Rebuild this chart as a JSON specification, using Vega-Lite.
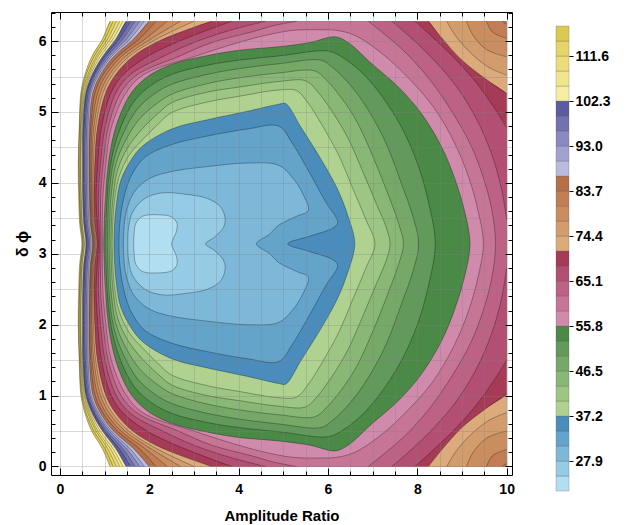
{
"$schema":"https://vega.github.io/schema/vega-lite/v6.json",
"background":"white",
"padding":{"left":14,"top":11,"right":2,"bottom":2},
"config":{"font":"Liberation Sans","view":{"stroke":null}},
"spacing":40,
"datasets":{
"lg":[{"k":1,"lo":21.7,"hi":24.8},{"k":2,"lo":24.8,"hi":27.9},{"k":3,"lo":27.9,"hi":31.0},{"k":4,"lo":31.0,"hi":34.1},{"k":5,"lo":34.1,"hi":37.2},{"k":6,"lo":37.2,"hi":40.3},{"k":7,"lo":40.3,"hi":43.4},{"k":8,"lo":43.4,"hi":46.5},{"k":9,"lo":46.5,"hi":49.6},{"k":10,"lo":49.6,"hi":52.7},{"k":11,"lo":52.7,"hi":55.8},{"k":12,"lo":55.8,"hi":58.9},{"k":13,"lo":58.9,"hi":62.0},{"k":14,"lo":62.0,"hi":65.1},{"k":15,"lo":65.1,"hi":68.2},{"k":16,"lo":68.2,"hi":71.3},{"k":17,"lo":71.3,"hi":74.4},{"k":18,"lo":74.4,"hi":77.5},{"k":19,"lo":77.5,"hi":80.6},{"k":20,"lo":80.6,"hi":83.7},{"k":21,"lo":83.7,"hi":86.8},{"k":22,"lo":86.8,"hi":89.9},{"k":23,"lo":89.9,"hi":93.0},{"k":24,"lo":93.0,"hi":96.1},{"k":25,"lo":96.1,"hi":99.2},{"k":26,"lo":99.2,"hi":102.3},{"k":27,"lo":102.3,"hi":105.4},{"k":28,"lo":105.4,"hi":108.5},{"k":29,"lo":108.5,"hi":111.6},{"k":30,"lo":111.6,"hi":114.7},{"k":31,"lo":114.7,"hi":117.8}],
"c":[
{"k":31,"s":311,"x":1.12,"y":0},{"k":31,"s":311,"x":0.95,"y":0.25},{"k":31,"s":311,"x":0.71,"y":0.5},{"k":31,"s":311,"x":0.56,"y":0.75},{"k":31,"s":311,"x":0.47,"y":1},{"k":31,"s":311,"x":0.43,"y":1.5},{"k":31,"s":311,"x":0.41,"y":2},{"k":31,"s":311,"x":0.42,"y":2.5},{"k":31,"s":311,"x":0.44,"y":2.85},{"k":31,"s":311,"x":0.49,"y":3.14},{"k":31,"s":311,"x":0.44,"y":3.43},{"k":31,"s":311,"x":0.42,"y":3.78},{"k":31,"s":311,"x":0.41,"y":4.28},{"k":31,"s":311,"x":0.43,"y":4.78},{"k":31,"s":311,"x":0.47,"y":5.28},{"k":31,"s":311,"x":0.56,"y":5.53},{"k":31,"s":311,"x":0.71,"y":5.78},{"k":31,"s":311,"x":0.95,"y":6.03},{"k":31,"s":311,"x":1.12,"y":6.28},{"k":31,"x":1.14,"y":6.28},{"k":31,"x":9.98,"y":6.28},{"k":31,"x":10,"y":6.28},{"k":31,"x":10,"y":6.26},{"k":31,"x":10,"y":0.02},{"k":31,"x":10,"y":0},
{"k":30,"s":301,"x":1.19,"y":0},{"k":30,"s":301,"x":1.01,"y":0.25},{"k":30,"s":301,"x":0.76,"y":0.5},{"k":30,"s":301,"x":0.59,"y":0.75},{"k":30,"s":301,"x":0.49,"y":1},{"k":30,"s":301,"x":0.44,"y":1.5},{"k":30,"s":301,"x":0.42,"y":2},{"k":30,"s":301,"x":0.44,"y":2.5},{"k":30,"s":301,"x":0.46,"y":2.85},{"k":30,"s":301,"x":0.51,"y":3.14},{"k":30,"s":301,"x":0.46,"y":3.43},{"k":30,"s":301,"x":0.44,"y":3.78},{"k":30,"s":301,"x":0.42,"y":4.28},{"k":30,"s":301,"x":0.44,"y":4.78},{"k":30,"s":301,"x":0.49,"y":5.28},{"k":30,"s":301,"x":0.59,"y":5.53},{"k":30,"s":301,"x":0.76,"y":5.78},{"k":30,"s":301,"x":1.01,"y":6.03},{"k":30,"s":301,"x":1.19,"y":6.28},{"k":30,"x":1.21,"y":6.28},{"k":30,"x":9.98,"y":6.28},{"k":30,"x":10,"y":6.28},{"k":30,"x":10,"y":6.26},{"k":30,"x":10,"y":0.02},{"k":30,"x":10,"y":0},
{"k":29,"s":291,"x":1.26,"y":0},{"k":29,"s":291,"x":1.07,"y":0.25},{"k":29,"s":291,"x":0.81,"y":0.5},{"k":29,"s":291,"x":0.63,"y":0.75},{"k":29,"s":291,"x":0.51,"y":1},{"k":29,"s":291,"x":0.46,"y":1.5},{"k":29,"s":291,"x":0.44,"y":2},{"k":29,"s":291,"x":0.45,"y":2.5},{"k":29,"s":291,"x":0.47,"y":2.85},{"k":29,"s":291,"x":0.52,"y":3.14},{"k":29,"s":291,"x":0.47,"y":3.43},{"k":29,"s":291,"x":0.45,"y":3.78},{"k":29,"s":291,"x":0.44,"y":4.28},{"k":29,"s":291,"x":0.46,"y":4.78},{"k":29,"s":291,"x":0.51,"y":5.28},{"k":29,"s":291,"x":0.63,"y":5.53},{"k":29,"s":291,"x":0.81,"y":5.78},{"k":29,"s":291,"x":1.07,"y":6.03},{"k":29,"s":291,"x":1.26,"y":6.28},{"k":29,"x":1.28,"y":6.28},{"k":29,"x":9.98,"y":6.28},{"k":29,"x":10,"y":6.28},{"k":29,"x":10,"y":6.26},{"k":29,"x":10,"y":0.02},{"k":29,"x":10,"y":0},
{"k":28,"s":281,"x":1.34,"y":0},{"k":28,"s":281,"x":1.13,"y":0.25},{"k":28,"s":281,"x":0.85,"y":0.5},{"k":28,"s":281,"x":0.66,"y":0.75},{"k":28,"s":281,"x":0.54,"y":1},{"k":28,"s":281,"x":0.47,"y":1.5},{"k":28,"s":281,"x":0.46,"y":2},{"k":28,"s":281,"x":0.47,"y":2.5},{"k":28,"s":281,"x":0.49,"y":2.85},{"k":28,"s":281,"x":0.54,"y":3.14},{"k":28,"s":281,"x":0.49,"y":3.43},{"k":28,"s":281,"x":0.47,"y":3.78},{"k":28,"s":281,"x":0.46,"y":4.28},{"k":28,"s":281,"x":0.47,"y":4.78},{"k":28,"s":281,"x":0.54,"y":5.28},{"k":28,"s":281,"x":0.66,"y":5.53},{"k":28,"s":281,"x":0.85,"y":5.78},{"k":28,"s":281,"x":1.13,"y":6.03},{"k":28,"s":281,"x":1.34,"y":6.28},{"k":28,"x":1.36,"y":6.28},{"k":28,"x":9.98,"y":6.28},{"k":28,"x":10,"y":6.28},{"k":28,"x":10,"y":6.26},{"k":28,"x":10,"y":0.02},{"k":28,"x":10,"y":0},
{"k":27,"s":271,"x":1.41,"y":0},{"k":27,"s":271,"x":1.19,"y":0.25},{"k":27,"s":271,"x":0.9,"y":0.5},{"k":27,"s":271,"x":0.69,"y":0.75},{"k":27,"s":271,"x":0.56,"y":1},{"k":27,"s":271,"x":0.49,"y":1.5},{"k":27,"s":271,"x":0.47,"y":2},{"k":27,"s":271,"x":0.48,"y":2.5},{"k":27,"s":271,"x":0.5,"y":2.85},{"k":27,"s":271,"x":0.55,"y":3.14},{"k":27,"s":271,"x":0.5,"y":3.43},{"k":27,"s":271,"x":0.48,"y":3.78},{"k":27,"s":271,"x":0.47,"y":4.28},{"k":27,"s":271,"x":0.49,"y":4.78},{"k":27,"s":271,"x":0.56,"y":5.28},{"k":27,"s":271,"x":0.69,"y":5.53},{"k":27,"s":271,"x":0.9,"y":5.78},{"k":27,"s":271,"x":1.19,"y":6.03},{"k":27,"s":271,"x":1.41,"y":6.28},{"k":27,"x":1.43,"y":6.28},{"k":27,"x":9.98,"y":6.28},{"k":27,"x":10,"y":6.28},{"k":27,"x":10,"y":6.26},{"k":27,"x":10,"y":0.02},{"k":27,"x":10,"y":0},
{"k":26,"s":261,"x":1.48,"y":0},{"k":26,"s":261,"x":1.25,"y":0.25},{"k":26,"s":261,"x":0.95,"y":0.5},{"k":26,"s":261,"x":0.72,"y":0.75},{"k":26,"s":261,"x":0.58,"y":1},{"k":26,"s":261,"x":0.51,"y":1.5},{"k":26,"s":261,"x":0.5,"y":2},{"k":26,"s":261,"x":0.51,"y":2.5},{"k":26,"s":261,"x":0.53,"y":2.85},{"k":26,"s":261,"x":0.58,"y":3.14},{"k":26,"s":261,"x":0.53,"y":3.43},{"k":26,"s":261,"x":0.51,"y":3.78},{"k":26,"s":261,"x":0.5,"y":4.28},{"k":26,"s":261,"x":0.51,"y":4.78},{"k":26,"s":261,"x":0.58,"y":5.28},{"k":26,"s":261,"x":0.72,"y":5.53},{"k":26,"s":261,"x":0.95,"y":5.78},{"k":26,"s":261,"x":1.25,"y":6.03},{"k":26,"s":261,"x":1.48,"y":6.28},{"k":26,"x":1.5,"y":6.28},{"k":26,"x":9.98,"y":6.28},{"k":26,"x":10,"y":6.28},{"k":26,"x":10,"y":6.26},{"k":26,"x":10,"y":0.02},{"k":26,"x":10,"y":0},
{"k":25,"s":251,"x":1.58,"y":0},{"k":25,"s":251,"x":1.33,"y":0.25},{"k":25,"s":251,"x":1,"y":0.5},{"k":25,"s":251,"x":0.76,"y":0.75},{"k":25,"s":251,"x":0.61,"y":1},{"k":25,"s":251,"x":0.54,"y":1.5},{"k":25,"s":251,"x":0.53,"y":2},{"k":25,"s":251,"x":0.54,"y":2.5},{"k":25,"s":251,"x":0.56,"y":2.85},{"k":25,"s":251,"x":0.61,"y":3.14},{"k":25,"s":251,"x":0.56,"y":3.43},{"k":25,"s":251,"x":0.54,"y":3.78},{"k":25,"s":251,"x":0.53,"y":4.28},{"k":25,"s":251,"x":0.54,"y":4.78},{"k":25,"s":251,"x":0.61,"y":5.28},{"k":25,"s":251,"x":0.76,"y":5.53},{"k":25,"s":251,"x":1,"y":5.78},{"k":25,"s":251,"x":1.33,"y":6.03},{"k":25,"s":251,"x":1.58,"y":6.28},{"k":25,"x":1.6,"y":6.28},{"k":25,"x":9.98,"y":6.28},{"k":25,"x":10,"y":6.28},{"k":25,"x":10,"y":6.26},{"k":25,"x":10,"y":0.02},{"k":25,"x":10,"y":0},
{"k":24,"s":241,"x":1.68,"y":0},{"k":24,"s":241,"x":1.41,"y":0.25},{"k":24,"s":241,"x":1.05,"y":0.5},{"k":24,"s":241,"x":0.79,"y":0.75},{"k":24,"s":241,"x":0.64,"y":1},{"k":24,"s":241,"x":0.57,"y":1.5},{"k":24,"s":241,"x":0.56,"y":2},{"k":24,"s":241,"x":0.57,"y":2.5},{"k":24,"s":241,"x":0.59,"y":2.85},{"k":24,"s":241,"x":0.64,"y":3.14},{"k":24,"s":241,"x":0.59,"y":3.43},{"k":24,"s":241,"x":0.57,"y":3.78},{"k":24,"s":241,"x":0.56,"y":4.28},{"k":24,"s":241,"x":0.57,"y":4.78},{"k":24,"s":241,"x":0.64,"y":5.28},{"k":24,"s":241,"x":0.79,"y":5.53},{"k":24,"s":241,"x":1.05,"y":5.78},{"k":24,"s":241,"x":1.41,"y":6.03},{"k":24,"s":241,"x":1.68,"y":6.28},{"k":24,"x":1.7,"y":6.28},{"k":24,"x":9.98,"y":6.28},{"k":24,"x":10,"y":6.28},{"k":24,"x":10,"y":6.26},{"k":24,"x":10,"y":0.02},{"k":24,"x":10,"y":0},
{"k":23,"s":231,"x":1.79,"y":0},{"k":23,"s":231,"x":1.49,"y":0.25},{"k":23,"s":231,"x":1.1,"y":0.5},{"k":23,"s":231,"x":0.83,"y":0.75},{"k":23,"s":231,"x":0.67,"y":1},{"k":23,"s":231,"x":0.6,"y":1.5},{"k":23,"s":231,"x":0.59,"y":2},{"k":23,"s":231,"x":0.6,"y":2.5},{"k":23,"s":231,"x":0.62,"y":2.85},{"k":23,"s":231,"x":0.67,"y":3.14},{"k":23,"s":231,"x":0.62,"y":3.43},{"k":23,"s":231,"x":0.6,"y":3.78},{"k":23,"s":231,"x":0.59,"y":4.28},{"k":23,"s":231,"x":0.6,"y":4.78},{"k":23,"s":231,"x":0.67,"y":5.28},{"k":23,"s":231,"x":0.83,"y":5.53},{"k":23,"s":231,"x":1.1,"y":5.78},{"k":23,"s":231,"x":1.49,"y":6.03},{"k":23,"s":231,"x":1.79,"y":6.28},{"k":23,"x":1.81,"y":6.28},{"k":23,"x":9.98,"y":6.28},{"k":23,"x":10,"y":6.28},{"k":23,"x":10,"y":6.26},{"k":23,"x":10,"y":0.02},{"k":23,"x":10,"y":0},
{"k":22,"s":221,"x":1.89,"y":0},{"k":22,"s":221,"x":1.57,"y":0.25},{"k":22,"s":221,"x":1.15,"y":0.5},{"k":22,"s":221,"x":0.87,"y":0.75},{"k":22,"s":221,"x":0.7,"y":1},{"k":22,"s":221,"x":0.63,"y":1.5},{"k":22,"s":221,"x":0.62,"y":2},{"k":22,"s":221,"x":0.63,"y":2.5},{"k":22,"s":221,"x":0.65,"y":2.85},{"k":22,"s":221,"x":0.7,"y":3.14},{"k":22,"s":221,"x":0.65,"y":3.43},{"k":22,"s":221,"x":0.63,"y":3.78},{"k":22,"s":221,"x":0.62,"y":4.28},{"k":22,"s":221,"x":0.63,"y":4.78},{"k":22,"s":221,"x":0.7,"y":5.28},{"k":22,"s":221,"x":0.87,"y":5.53},{"k":22,"s":221,"x":1.15,"y":5.78},{"k":22,"s":221,"x":1.57,"y":6.03},{"k":22,"s":221,"x":1.89,"y":6.28},{"k":22,"x":1.91,"y":6.28},{"k":22,"x":9.98,"y":6.28},{"k":22,"x":10,"y":6.28},{"k":22,"x":10,"y":6.26},{"k":22,"x":10,"y":0.02},{"k":22,"x":10,"y":0},
{"k":21,"s":211,"x":2,"y":0},{"k":21,"s":211,"x":1.65,"y":0.25},{"k":21,"s":211,"x":1.2,"y":0.5},{"k":21,"s":211,"x":0.91,"y":0.75},{"k":21,"s":211,"x":0.74,"y":1},{"k":21,"s":211,"x":0.66,"y":1.5},{"k":21,"s":211,"x":0.65,"y":2},{"k":21,"s":211,"x":0.66,"y":2.5},{"k":21,"s":211,"x":0.68,"y":2.85},{"k":21,"s":211,"x":0.73,"y":3.14},{"k":21,"s":211,"x":0.68,"y":3.43},{"k":21,"s":211,"x":0.66,"y":3.78},{"k":21,"s":211,"x":0.65,"y":4.28},{"k":21,"s":211,"x":0.66,"y":4.78},{"k":21,"s":211,"x":0.74,"y":5.28},{"k":21,"s":211,"x":0.91,"y":5.53},{"k":21,"s":211,"x":1.2,"y":5.78},{"k":21,"s":211,"x":1.65,"y":6.03},{"k":21,"s":211,"x":2,"y":6.28},{"k":21,"x":2.02,"y":6.28},{"k":21,"x":9.98,"y":6.28},{"k":21,"x":10,"y":6.28},{"k":21,"x":10,"y":6.26},{"k":21,"x":10,"y":0.02},{"k":21,"x":10,"y":0},
{"k":20,"s":201,"x":2.15,"y":0},{"k":20,"s":201,"x":1.78,"y":0.25},{"k":20,"s":201,"x":1.29,"y":0.5},{"k":20,"s":201,"x":0.97,"y":0.75},{"k":20,"s":201,"x":0.79,"y":1},{"k":20,"s":201,"x":0.69,"y":1.5},{"k":20,"s":201,"x":0.67,"y":2},{"k":20,"s":201,"x":0.68,"y":2.5},{"k":20,"s":201,"x":0.7,"y":2.85},{"k":20,"s":201,"x":0.75,"y":3.14},{"k":20,"s":201,"x":0.7,"y":3.43},{"k":20,"s":201,"x":0.68,"y":3.78},{"k":20,"s":201,"x":0.67,"y":4.28},{"k":20,"s":201,"x":0.69,"y":4.78},{"k":20,"s":201,"x":0.79,"y":5.28},{"k":20,"s":201,"x":0.97,"y":5.53},{"k":20,"s":201,"x":1.29,"y":5.78},{"k":20,"s":201,"x":1.78,"y":6.03},{"k":20,"s":201,"x":2.15,"y":6.28},{"k":20,"x":2.17,"y":6.28},{"k":20,"x":9.88,"y":6.28},{"k":20,"s":202,"x":9.9,"y":6.28},{"k":20,"s":202,"x":10,"y":6.24},{"k":20,"x":10,"y":6.22},{"k":20,"x":10,"y":0.06},{"k":20,"s":203,"x":10,"y":0.04},{"k":20,"s":203,"x":9.9,"y":0},
{"k":19,"s":191,"x":2.4,"y":0},{"k":19,"s":191,"x":1.91,"y":0.25},{"k":19,"s":191,"x":1.37,"y":0.5},{"k":19,"s":191,"x":1.04,"y":0.75},{"k":19,"s":191,"x":0.85,"y":1},{"k":19,"s":191,"x":0.72,"y":1.5},{"k":19,"s":191,"x":0.7,"y":2},{"k":19,"s":191,"x":0.7,"y":2.5},{"k":19,"s":191,"x":0.72,"y":2.85},{"k":19,"s":191,"x":0.77,"y":3.14},{"k":19,"s":191,"x":0.72,"y":3.43},{"k":19,"s":191,"x":0.7,"y":3.78},{"k":19,"s":191,"x":0.7,"y":4.28},{"k":19,"s":191,"x":0.72,"y":4.78},{"k":19,"s":191,"x":0.85,"y":5.28},{"k":19,"s":191,"x":1.04,"y":5.53},{"k":19,"s":191,"x":1.37,"y":5.78},{"k":19,"s":191,"x":1.91,"y":6.03},{"k":19,"s":191,"x":2.4,"y":6.28},{"k":19,"x":2.42,"y":6.28},{"k":19,"x":9.53,"y":6.28},{"k":19,"s":192,"x":9.55,"y":6.28},{"k":19,"s":192,"x":9.68,"y":6.13},{"k":19,"s":192,"x":10,"y":6.04},{"k":19,"x":10,"y":6.02},{"k":19,"x":10,"y":0.26},{"k":19,"s":193,"x":10,"y":0.24},{"k":19,"s":193,"x":9.68,"y":0.15},{"k":19,"s":193,"x":9.55,"y":0},
{"k":18,"s":181,"x":2.7,"y":0},{"k":18,"s":181,"x":2.04,"y":0.25},{"k":18,"s":181,"x":1.46,"y":0.5},{"k":18,"s":181,"x":1.11,"y":0.75},{"k":18,"s":181,"x":0.91,"y":1},{"k":18,"s":181,"x":0.76,"y":1.5},{"k":18,"s":181,"x":0.72,"y":2},{"k":18,"s":181,"x":0.72,"y":2.5},{"k":18,"s":181,"x":0.74,"y":2.85},{"k":18,"s":181,"x":0.79,"y":3.14},{"k":18,"s":181,"x":0.74,"y":3.43},{"k":18,"s":181,"x":0.72,"y":3.78},{"k":18,"s":181,"x":0.72,"y":4.28},{"k":18,"s":181,"x":0.76,"y":4.78},{"k":18,"s":181,"x":0.91,"y":5.28},{"k":18,"s":181,"x":1.11,"y":5.53},{"k":18,"s":181,"x":1.46,"y":5.78},{"k":18,"s":181,"x":2.04,"y":6.03},{"k":18,"s":181,"x":2.7,"y":6.28},{"k":18,"x":2.72,"y":6.28},{"k":18,"x":9.08,"y":6.28},{"k":18,"s":182,"x":9.1,"y":6.28},{"k":18,"s":182,"x":9.25,"y":6.08},{"k":18,"s":182,"x":9.55,"y":5.88},{"k":18,"s":182,"x":10,"y":5.78},{"k":18,"x":10,"y":5.76},{"k":18,"x":10,"y":0.52},{"k":18,"s":183,"x":10,"y":0.5},{"k":18,"s":183,"x":9.55,"y":0.4},{"k":18,"s":183,"x":9.25,"y":0.2},{"k":18,"s":183,"x":9.1,"y":0},
{"k":17,"s":171,"x":3,"y":0},{"k":17,"s":171,"x":2.17,"y":0.25},{"k":17,"s":171,"x":1.54,"y":0.5},{"k":17,"s":171,"x":1.18,"y":0.75},{"k":17,"s":171,"x":0.97,"y":1},{"k":17,"s":171,"x":0.8,"y":1.5},{"k":17,"s":171,"x":0.75,"y":2},{"k":17,"s":171,"x":0.74,"y":2.5},{"k":17,"s":171,"x":0.76,"y":2.85},{"k":17,"s":171,"x":0.81,"y":3.14},{"k":17,"s":171,"x":0.76,"y":3.43},{"k":17,"s":171,"x":0.74,"y":3.78},{"k":17,"s":171,"x":0.75,"y":4.28},{"k":17,"s":171,"x":0.8,"y":4.78},{"k":17,"s":171,"x":0.97,"y":5.28},{"k":17,"s":171,"x":1.18,"y":5.53},{"k":17,"s":171,"x":1.54,"y":5.78},{"k":17,"s":171,"x":2.17,"y":6.03},{"k":17,"s":171,"x":3,"y":6.28},{"k":17,"x":3.02,"y":6.28},{"k":17,"x":8.64,"y":6.28},{"k":17,"s":172,"x":8.66,"y":6.28},{"k":17,"s":172,"x":8.85,"y":6.08},{"k":17,"s":172,"x":9.2,"y":5.83},{"k":17,"s":172,"x":9.6,"y":5.63},{"k":17,"s":172,"x":10,"y":5.52},{"k":17,"x":10,"y":5.5},{"k":17,"x":10,"y":0.78},{"k":17,"s":173,"x":10,"y":0.76},{"k":17,"s":173,"x":9.6,"y":0.65},{"k":17,"s":173,"x":9.2,"y":0.45},{"k":17,"s":173,"x":8.85,"y":0.2},{"k":17,"s":173,"x":8.66,"y":0},
{"k":16,"s":161,"x":3.4,"y":0},{"k":16,"s":161,"x":2.72,"y":0.15},{"k":16,"s":161,"x":2.15,"y":0.3},{"k":16,"s":161,"x":1.63,"y":0.5},{"k":16,"s":161,"x":1.25,"y":0.75},{"k":16,"s":161,"x":1.03,"y":1},{"k":16,"s":161,"x":0.84,"y":1.5},{"k":16,"s":161,"x":0.78,"y":2},{"k":16,"s":161,"x":0.76,"y":2.5},{"k":16,"s":161,"x":0.78,"y":2.85},{"k":16,"s":161,"x":0.83,"y":3.14},{"k":16,"s":161,"x":0.78,"y":3.43},{"k":16,"s":161,"x":0.76,"y":3.78},{"k":16,"s":161,"x":0.78,"y":4.28},{"k":16,"s":161,"x":0.84,"y":4.78},{"k":16,"s":161,"x":1.03,"y":5.28},{"k":16,"s":161,"x":1.25,"y":5.53},{"k":16,"s":161,"x":1.63,"y":5.78},{"k":16,"s":161,"x":2.15,"y":5.98},{"k":16,"s":161,"x":2.72,"y":6.13},{"k":16,"s":161,"x":3.4,"y":6.28},{"k":16,"x":3.42,"y":6.28},{"k":16,"x":8.23,"y":6.28},{"k":16,"s":162,"x":8.25,"y":6.28},{"k":16,"s":162,"x":8.5,"y":6.08},{"k":16,"s":162,"x":9,"y":5.73},{"k":16,"s":162,"x":9.5,"y":5.48},{"k":16,"s":162,"x":10,"y":5.26},{"k":16,"x":10,"y":5.24},{"k":16,"x":10,"y":1.04},{"k":16,"s":163,"x":10,"y":1.02},{"k":16,"s":163,"x":9.5,"y":0.8},{"k":16,"s":163,"x":9,"y":0.55},{"k":16,"s":163,"x":8.5,"y":0.2},{"k":16,"s":163,"x":8.25,"y":0},
{"k":15,"s":151,"x":3.85,"y":0},{"k":15,"s":151,"x":3.2,"y":0.15},{"k":15,"s":151,"x":2.6,"y":0.3},{"k":15,"s":151,"x":1.95,"y":0.5},{"k":15,"s":151,"x":1.42,"y":0.75},{"k":15,"s":151,"x":1.15,"y":1},{"k":15,"s":151,"x":0.93,"y":1.5},{"k":15,"s":151,"x":0.85,"y":2},{"k":15,"s":151,"x":0.81,"y":2.5},{"k":15,"s":151,"x":0.86,"y":3.14},{"k":15,"s":151,"x":0.81,"y":3.78},{"k":15,"s":151,"x":0.85,"y":4.28},{"k":15,"s":151,"x":0.93,"y":4.78},{"k":15,"s":151,"x":1.15,"y":5.28},{"k":15,"s":151,"x":1.42,"y":5.53},{"k":15,"s":151,"x":1.95,"y":5.78},{"k":15,"s":151,"x":2.6,"y":5.98},{"k":15,"s":151,"x":3.2,"y":6.13},{"k":15,"s":151,"x":3.85,"y":6.28},{"k":15,"x":3.87,"y":6.28},{"k":15,"x":7.93,"y":6.28},{"k":15,"s":152,"x":7.95,"y":6.28},{"k":15,"s":152,"x":8.3,"y":6.08},{"k":15,"s":152,"x":8.8,"y":5.78},{"k":15,"s":152,"x":9.3,"y":5.43},{"k":15,"s":152,"x":9.7,"y":5.08},{"k":15,"s":152,"x":10,"y":4.78},{"k":15,"x":10,"y":4.76},{"k":15,"x":10,"y":1.52},{"k":15,"s":153,"x":10,"y":1.5},{"k":15,"s":153,"x":9.7,"y":1.2},{"k":15,"s":153,"x":9.3,"y":0.85},{"k":15,"s":153,"x":8.8,"y":0.5},{"k":15,"s":153,"x":8.3,"y":0.2},{"k":15,"s":153,"x":7.95,"y":0},
{"k":14,"s":141,"x":4.6,"y":0},{"k":14,"s":141,"x":3.8,"y":0.13},{"k":14,"s":141,"x":3,"y":0.3},{"k":14,"s":141,"x":2.3,"y":0.5},{"k":14,"s":141,"x":1.58,"y":0.75},{"k":14,"s":141,"x":1.26,"y":1},{"k":14,"s":141,"x":1.01,"y":1.5},{"k":14,"s":141,"x":0.91,"y":2},{"k":14,"s":141,"x":0.86,"y":2.5},{"k":14,"s":141,"x":0.89,"y":3.14},{"k":14,"s":141,"x":0.86,"y":3.78},{"k":14,"s":141,"x":0.91,"y":4.28},{"k":14,"s":141,"x":1.01,"y":4.78},{"k":14,"s":141,"x":1.26,"y":5.28},{"k":14,"s":141,"x":1.58,"y":5.53},{"k":14,"s":141,"x":2.3,"y":5.78},{"k":14,"s":141,"x":3,"y":5.98},{"k":14,"s":141,"x":3.8,"y":6.15},{"k":14,"s":141,"x":4.6,"y":6.28},{"k":14,"x":4.62,"y":6.28},{"k":14,"x":7.41,"y":6.28},{"k":14,"s":142,"x":7.43,"y":6.28},{"k":14,"s":142,"x":7.8,"y":6.08},{"k":14,"s":142,"x":8.3,"y":5.78},{"k":14,"s":142,"x":8.85,"y":5.38},{"k":14,"s":142,"x":9.3,"y":4.93},{"k":14,"s":142,"x":9.65,"y":4.43},{"k":14,"s":142,"x":9.88,"y":3.93},{"k":14,"s":142,"x":10,"y":3.48},{"k":14,"x":10,"y":3.46},{"k":14,"x":10,"y":2.82},{"k":14,"s":143,"x":10,"y":2.8},{"k":14,"s":143,"x":9.88,"y":2.35},{"k":14,"s":143,"x":9.65,"y":1.85},{"k":14,"s":143,"x":9.3,"y":1.35},{"k":14,"s":143,"x":8.85,"y":0.9},{"k":14,"s":143,"x":8.3,"y":0.5},{"k":14,"s":143,"x":7.8,"y":0.2},{"k":14,"s":143,"x":7.43,"y":0},
{"k":13,"s":131,"x":5.3,"y":0},{"k":13,"s":131,"x":4.8,"y":0.06},{"k":13,"s":131,"x":4.3,"y":0.15},{"k":13,"s":131,"x":3.4,"y":0.3},{"k":13,"s":131,"x":2.65,"y":0.5},{"k":13,"s":131,"x":1.74,"y":0.75},{"k":13,"s":131,"x":1.37,"y":1},{"k":13,"s":131,"x":1.08,"y":1.5},{"k":13,"s":131,"x":0.97,"y":2},{"k":13,"s":131,"x":0.91,"y":2.5},{"k":13,"s":131,"x":0.92,"y":3.14},{"k":13,"s":131,"x":0.91,"y":3.78},{"k":13,"s":131,"x":0.97,"y":4.28},{"k":13,"s":131,"x":1.08,"y":4.78},{"k":13,"s":131,"x":1.37,"y":5.28},{"k":13,"s":131,"x":1.74,"y":5.53},{"k":13,"s":131,"x":2.65,"y":5.78},{"k":13,"s":131,"x":3.4,"y":5.98},{"k":13,"s":131,"x":4.3,"y":6.13},{"k":13,"s":131,"x":4.8,"y":6.22},{"k":13,"s":131,"x":5.3,"y":6.28},{"k":13,"x":5.32,"y":6.28},{"k":13,"x":6.88,"y":6.28},{"k":13,"s":132,"x":6.9,"y":6.28},{"k":13,"s":132,"x":7.2,"y":6.13},{"k":13,"s":132,"x":7.7,"y":5.86},{"k":13,"s":132,"x":8.25,"y":5.48},{"k":13,"s":132,"x":8.75,"y":5.03},{"k":13,"s":132,"x":9.2,"y":4.53},{"k":13,"s":132,"x":9.5,"y":4.03},{"k":13,"s":132,"x":9.68,"y":3.58},{"k":13,"s":132,"x":9.75,"y":3.14},{"k":13,"s":132,"x":9.68,"y":2.7},{"k":13,"s":132,"x":9.5,"y":2.25},{"k":13,"s":132,"x":9.2,"y":1.75},{"k":13,"s":132,"x":8.75,"y":1.25},{"k":13,"s":132,"x":8.25,"y":0.8},{"k":13,"s":132,"x":7.7,"y":0.42},{"k":13,"s":132,"x":7.2,"y":0.15},{"k":13,"s":132,"x":6.9,"y":0},
{"k":12,"s":120,"x":0.95,"y":3.14},{"k":12,"s":120,"x":0.96,"y":2.5},{"k":12,"s":120,"x":1.03,"y":2},{"k":12,"s":120,"x":1.15,"y":1.5},{"k":12,"s":120,"x":1.49,"y":1},{"k":12,"s":120,"x":1.88,"y":0.75},{"k":12,"s":120,"x":3,"y":0.5},{"k":12,"s":120,"x":4,"y":0.3},{"k":12,"s":120,"x":4.6,"y":0.2},{"k":12,"s":120,"x":5.2,"y":0.13},{"k":12,"s":120,"x":5.8,"y":0.12},{"k":12,"s":120,"x":6.2,"y":0.13},{"k":12,"s":120,"x":6.6,"y":0.2},{"k":12,"s":120,"x":7.2,"y":0.45},{"k":12,"s":120,"x":7.8,"y":0.8},{"k":12,"s":120,"x":8.35,"y":1.2},{"k":12,"s":120,"x":8.82,"y":1.7},{"k":12,"s":120,"x":9.15,"y":2.2},{"k":12,"s":120,"x":9.37,"y":2.7},{"k":12,"s":120,"x":9.48,"y":3.14},{"k":12,"s":120,"x":9.37,"y":3.58},{"k":12,"s":120,"x":9.15,"y":4.08},{"k":12,"s":120,"x":8.82,"y":4.58},{"k":12,"s":120,"x":8.35,"y":5.08},{"k":12,"s":120,"x":7.8,"y":5.48},{"k":12,"s":120,"x":7.2,"y":5.83},{"k":12,"s":120,"x":6.6,"y":6.08},{"k":12,"s":120,"x":6.2,"y":6.15},{"k":12,"s":120,"x":5.8,"y":6.16},{"k":12,"s":120,"x":5.2,"y":6.15},{"k":12,"s":120,"x":4.6,"y":6.08},{"k":12,"s":120,"x":4,"y":5.98},{"k":12,"s":120,"x":3,"y":5.78},{"k":12,"s":120,"x":1.88,"y":5.53},{"k":12,"s":120,"x":1.49,"y":5.28},{"k":12,"s":120,"x":1.15,"y":4.78},{"k":12,"s":120,"x":1.03,"y":4.28},{"k":12,"s":120,"x":0.96,"y":3.78},{"k":12,"s":120,"x":0.95,"y":3.14},
{"k":11,"s":110,"x":0.98,"y":3.14},{"k":11,"s":110,"x":0.99,"y":2.9},{"k":11,"s":110,"x":1.02,"y":2.46},{"k":11,"s":110,"x":1.12,"y":1.85},{"k":11,"s":110,"x":1.31,"y":1.38},{"k":11,"s":110,"x":1.61,"y":1},{"k":11,"s":110,"x":1.99,"y":0.77},{"k":11,"s":110,"x":2.5,"y":0.61},{"k":11,"s":110,"x":3.26,"y":0.49},{"k":11,"s":110,"x":4,"y":0.41},{"k":11,"s":110,"x":4.9,"y":0.36},{"k":11,"s":110,"x":5.6,"y":0.3},{"k":11,"s":110,"x":6.16,"y":0.22},{"k":11,"s":110,"x":6.45,"y":0.3},{"k":11,"s":110,"x":6.98,"y":0.6},{"k":11,"s":110,"x":7.58,"y":0.93},{"k":11,"s":110,"x":8.1,"y":1.31},{"k":11,"s":110,"x":8.55,"y":1.78},{"k":11,"s":110,"x":8.85,"y":2.24},{"k":11,"s":110,"x":9.07,"y":2.71},{"k":11,"s":110,"x":9.18,"y":3.14},{"k":11,"s":110,"x":9.07,"y":3.57},{"k":11,"s":110,"x":8.85,"y":4.04},{"k":11,"s":110,"x":8.55,"y":4.5},{"k":11,"s":110,"x":8.1,"y":4.97},{"k":11,"s":110,"x":7.58,"y":5.35},{"k":11,"s":110,"x":6.98,"y":5.68},{"k":11,"s":110,"x":6.45,"y":5.98},{"k":11,"s":110,"x":6.16,"y":6.06},{"k":11,"s":110,"x":5.6,"y":5.98},{"k":11,"s":110,"x":4.9,"y":5.92},{"k":11,"s":110,"x":4,"y":5.87},{"k":11,"s":110,"x":3.26,"y":5.79},{"k":11,"s":110,"x":2.5,"y":5.67},{"k":11,"s":110,"x":1.99,"y":5.51},{"k":11,"s":110,"x":1.61,"y":5.28},{"k":11,"s":110,"x":1.31,"y":4.9},{"k":11,"s":110,"x":1.12,"y":4.43},{"k":11,"s":110,"x":1.02,"y":3.82},{"k":11,"s":110,"x":0.99,"y":3.38},{"k":11,"s":110,"x":0.98,"y":3.14},
{"k":10,"s":100,"x":1.02,"y":3.14},{"k":10,"s":100,"x":1.03,"y":2.9},{"k":10,"s":100,"x":1.06,"y":2.46},{"k":10,"s":100,"x":1.17,"y":1.9},{"k":10,"s":100,"x":1.37,"y":1.48},{"k":10,"s":100,"x":1.67,"y":1.12},{"k":10,"s":100,"x":2.05,"y":0.9},{"k":10,"s":100,"x":2.5,"y":0.75},{"k":10,"s":100,"x":3.3,"y":0.62},{"k":10,"s":100,"x":4,"y":0.55},{"k":10,"s":100,"x":4.9,"y":0.49},{"k":10,"s":100,"x":6,"y":0.42},{"k":10,"s":100,"x":6.3,"y":0.5},{"k":10,"s":100,"x":6.75,"y":0.72},{"k":10,"s":100,"x":7.2,"y":1.05},{"k":10,"s":100,"x":7.65,"y":1.5},{"k":10,"s":100,"x":8,"y":2},{"k":10,"s":100,"x":8.25,"y":2.55},{"k":10,"s":100,"x":8.4,"y":3.14},{"k":10,"s":100,"x":8.25,"y":3.73},{"k":10,"s":100,"x":8,"y":4.28},{"k":10,"s":100,"x":7.65,"y":4.78},{"k":10,"s":100,"x":7.2,"y":5.23},{"k":10,"s":100,"x":6.75,"y":5.56},{"k":10,"s":100,"x":6.3,"y":5.78},{"k":10,"s":100,"x":6,"y":5.86},{"k":10,"s":100,"x":4.9,"y":5.79},{"k":10,"s":100,"x":4,"y":5.73},{"k":10,"s":100,"x":3.3,"y":5.66},{"k":10,"s":100,"x":2.5,"y":5.53},{"k":10,"s":100,"x":2.05,"y":5.38},{"k":10,"s":100,"x":1.67,"y":5.16},{"k":10,"s":100,"x":1.37,"y":4.8},{"k":10,"s":100,"x":1.17,"y":4.38},{"k":10,"s":100,"x":1.06,"y":3.82},{"k":10,"s":100,"x":1.03,"y":3.38},{"k":10,"s":100,"x":1.02,"y":3.14},
{"k":9,"s":90,"x":1.06,"y":3.14},{"k":9,"s":90,"x":1.07,"y":2.9},{"k":9,"s":90,"x":1.1,"y":2.46},{"k":9,"s":90,"x":1.21,"y":1.95},{"k":9,"s":90,"x":1.42,"y":1.58},{"k":9,"s":90,"x":1.72,"y":1.25},{"k":9,"s":90,"x":2.1,"y":1.03},{"k":9,"s":90,"x":2.5,"y":0.89},{"k":9,"s":90,"x":3.3,"y":0.75},{"k":9,"s":90,"x":4,"y":0.67},{"k":9,"s":90,"x":4.9,"y":0.6},{"k":9,"s":90,"x":5.85,"y":0.55},{"k":9,"s":90,"x":6.1,"y":0.65},{"k":9,"s":90,"x":6.5,"y":0.9},{"k":9,"s":90,"x":6.9,"y":1.25},{"k":9,"s":90,"x":7.3,"y":1.72},{"k":9,"s":90,"x":7.65,"y":2.3},{"k":9,"s":90,"x":7.9,"y":2.75},{"k":9,"s":90,"x":8.03,"y":3.14},{"k":9,"s":90,"x":7.9,"y":3.53},{"k":9,"s":90,"x":7.65,"y":3.98},{"k":9,"s":90,"x":7.3,"y":4.56},{"k":9,"s":90,"x":6.9,"y":5.03},{"k":9,"s":90,"x":6.5,"y":5.38},{"k":9,"s":90,"x":6.1,"y":5.63},{"k":9,"s":90,"x":5.85,"y":5.73},{"k":9,"s":90,"x":4.9,"y":5.68},{"k":9,"s":90,"x":4,"y":5.61},{"k":9,"s":90,"x":3.3,"y":5.53},{"k":9,"s":90,"x":2.5,"y":5.39},{"k":9,"s":90,"x":2.1,"y":5.25},{"k":9,"s":90,"x":1.72,"y":5.03},{"k":9,"s":90,"x":1.42,"y":4.7},{"k":9,"s":90,"x":1.21,"y":4.33},{"k":9,"s":90,"x":1.1,"y":3.82},{"k":9,"s":90,"x":1.07,"y":3.38},{"k":9,"s":90,"x":1.06,"y":3.14},
{"k":8,"s":80,"x":1.1,"y":3.14},{"k":8,"s":80,"x":1.11,"y":2.9},{"k":8,"s":80,"x":1.14,"y":2.5},{"k":8,"s":80,"x":1.25,"y":2.02},{"k":8,"s":80,"x":1.47,"y":1.68},{"k":8,"s":80,"x":1.78,"y":1.38},{"k":8,"s":80,"x":2.15,"y":1.17},{"k":8,"s":80,"x":2.5,"y":1.03},{"k":8,"s":80,"x":3.3,"y":0.88},{"k":8,"s":80,"x":4,"y":0.8},{"k":8,"s":80,"x":4.9,"y":0.73},{"k":8,"s":80,"x":5.7,"y":0.7},{"k":8,"s":80,"x":5.95,"y":0.82},{"k":8,"s":80,"x":6.3,"y":1.08},{"k":8,"s":80,"x":6.65,"y":1.42},{"k":8,"s":80,"x":7,"y":1.9},{"k":8,"s":80,"x":7.35,"y":2.45},{"k":8,"s":80,"x":7.58,"y":2.85},{"k":8,"s":80,"x":7.69,"y":3.14},{"k":8,"s":80,"x":7.58,"y":3.43},{"k":8,"s":80,"x":7.35,"y":3.83},{"k":8,"s":80,"x":7,"y":4.38},{"k":8,"s":80,"x":6.65,"y":4.86},{"k":8,"s":80,"x":6.3,"y":5.2},{"k":8,"s":80,"x":5.95,"y":5.46},{"k":8,"s":80,"x":5.7,"y":5.58},{"k":8,"s":80,"x":4.9,"y":5.55},{"k":8,"s":80,"x":4,"y":5.48},{"k":8,"s":80,"x":3.3,"y":5.4},{"k":8,"s":80,"x":2.5,"y":5.25},{"k":8,"s":80,"x":2.15,"y":5.11},{"k":8,"s":80,"x":1.78,"y":4.9},{"k":8,"s":80,"x":1.47,"y":4.6},{"k":8,"s":80,"x":1.25,"y":4.26},{"k":8,"s":80,"x":1.14,"y":3.78},{"k":8,"s":80,"x":1.11,"y":3.38},{"k":8,"s":80,"x":1.1,"y":3.14},
{"k":7,"s":70,"x":1.14,"y":3.14},{"k":7,"s":70,"x":1.15,"y":2.9},{"k":7,"s":70,"x":1.18,"y":2.55},{"k":7,"s":70,"x":1.29,"y":2.1},{"k":7,"s":70,"x":1.52,"y":1.78},{"k":7,"s":70,"x":1.84,"y":1.52},{"k":7,"s":70,"x":2.2,"y":1.3},{"k":7,"s":70,"x":2.5,"y":1.15},{"k":7,"s":70,"x":3.3,"y":1},{"k":7,"s":70,"x":4,"y":0.93},{"k":7,"s":70,"x":4.9,"y":0.85},{"k":7,"s":70,"x":5.5,"y":0.84},{"k":7,"s":70,"x":5.75,"y":0.98},{"k":7,"s":70,"x":6.1,"y":1.28},{"k":7,"s":70,"x":6.45,"y":1.65},{"k":7,"s":70,"x":6.8,"y":2.15},{"k":7,"s":70,"x":7.1,"y":2.6},{"k":7,"s":70,"x":7.3,"y":2.9},{"k":7,"s":70,"x":7.39,"y":3.14},{"k":7,"s":70,"x":7.3,"y":3.38},{"k":7,"s":70,"x":7.1,"y":3.68},{"k":7,"s":70,"x":6.8,"y":4.13},{"k":7,"s":70,"x":6.45,"y":4.63},{"k":7,"s":70,"x":6.1,"y":5},{"k":7,"s":70,"x":5.75,"y":5.3},{"k":7,"s":70,"x":5.5,"y":5.44},{"k":7,"s":70,"x":4.9,"y":5.43},{"k":7,"s":70,"x":4,"y":5.35},{"k":7,"s":70,"x":3.3,"y":5.28},{"k":7,"s":70,"x":2.5,"y":5.13},{"k":7,"s":70,"x":2.2,"y":4.98},{"k":7,"s":70,"x":1.84,"y":4.76},{"k":7,"s":70,"x":1.52,"y":4.5},{"k":7,"s":70,"x":1.29,"y":4.18},{"k":7,"s":70,"x":1.18,"y":3.73},{"k":7,"s":70,"x":1.15,"y":3.38},{"k":7,"s":70,"x":1.14,"y":3.14},
{"k":6,"s":60,"x":1.17,"y":3.14},{"k":6,"s":60,"x":1.18,"y":2.9},{"k":6,"s":60,"x":1.21,"y":2.6},{"k":6,"s":60,"x":1.32,"y":2.2},{"k":6,"s":60,"x":1.56,"y":1.88},{"k":6,"s":60,"x":1.9,"y":1.64},{"k":6,"s":60,"x":2.2,"y":1.45},{"k":6,"s":60,"x":2.5,"y":1.29},{"k":6,"s":60,"x":3.3,"y":1.14},{"k":6,"s":60,"x":4,"y":1.06},{"k":6,"s":60,"x":4.9,"y":0.97},{"k":6,"s":60,"x":5.3,"y":0.98},{"k":6,"s":60,"x":5.55,"y":1.15},{"k":6,"s":60,"x":5.9,"y":1.5},{"k":6,"s":60,"x":6.25,"y":1.9},{"k":6,"s":60,"x":6.55,"y":2.35},{"k":6,"s":60,"x":6.85,"y":2.8},{"k":6,"s":60,"x":7.05,"y":3.14},{"k":6,"s":60,"x":6.85,"y":3.48},{"k":6,"s":60,"x":6.55,"y":3.93},{"k":6,"s":60,"x":6.25,"y":4.38},{"k":6,"s":60,"x":5.9,"y":4.78},{"k":6,"s":60,"x":5.55,"y":5.13},{"k":6,"s":60,"x":5.3,"y":5.3},{"k":6,"s":60,"x":4.9,"y":5.31},{"k":6,"s":60,"x":4,"y":5.22},{"k":6,"s":60,"x":3.3,"y":5.14},{"k":6,"s":60,"x":2.5,"y":4.99},{"k":6,"s":60,"x":2.2,"y":4.83},{"k":6,"s":60,"x":1.9,"y":4.64},{"k":6,"s":60,"x":1.56,"y":4.4},{"k":6,"s":60,"x":1.32,"y":4.08},{"k":6,"s":60,"x":1.21,"y":3.68},{"k":6,"s":60,"x":1.18,"y":3.38},{"k":6,"s":60,"x":1.17,"y":3.14},
{"k":5,"s":50,"x":1.21,"y":3.14},{"k":5,"s":50,"x":1.22,"y":2.9},{"k":5,"s":50,"x":1.26,"y":2.6},{"k":5,"s":50,"x":1.36,"y":2.25},{"k":5,"s":50,"x":1.6,"y":1.95},{"k":5,"s":50,"x":1.85,"y":1.76},{"k":5,"s":50,"x":2.5,"y":1.52},{"k":5,"s":50,"x":3.3,"y":1.39},{"k":5,"s":50,"x":4.2,"y":1.27},{"k":5,"s":50,"x":4.9,"y":1.17},{"k":5,"s":50,"x":5.05,"y":1.16},{"k":5,"s":50,"x":5.4,"y":1.5},{"k":5,"s":50,"x":5.8,"y":1.9},{"k":5,"s":50,"x":6.2,"y":2.35},{"k":5,"s":50,"x":6.45,"y":2.75},{"k":5,"s":50,"x":6.6,"y":3.14},{"k":5,"s":50,"x":6.45,"y":3.53},{"k":5,"s":50,"x":6.2,"y":3.93},{"k":5,"s":50,"x":5.8,"y":4.38},{"k":5,"s":50,"x":5.4,"y":4.78},{"k":5,"s":50,"x":5.05,"y":5.12},{"k":5,"s":50,"x":4.9,"y":5.11},{"k":5,"s":50,"x":4.2,"y":5.01},{"k":5,"s":50,"x":3.3,"y":4.89},{"k":5,"s":50,"x":2.5,"y":4.76},{"k":5,"s":50,"x":1.85,"y":4.52},{"k":5,"s":50,"x":1.6,"y":4.33},{"k":5,"s":50,"x":1.36,"y":4.03},{"k":5,"s":50,"x":1.26,"y":3.68},{"k":5,"s":50,"x":1.22,"y":3.38},{"k":5,"s":50,"x":1.21,"y":3.14},
{"k":4,"s":40,"x":1.32,"y":3.14},{"k":4,"s":40,"x":1.34,"y":2.85},{"k":4,"s":40,"x":1.42,"y":2.52},{"k":4,"s":40,"x":1.58,"y":2.2},{"k":4,"s":40,"x":1.9,"y":1.92},{"k":4,"s":40,"x":2.5,"y":1.74},{"k":4,"s":40,"x":3.3,"y":1.62},{"k":4,"s":40,"x":4.2,"y":1.52},{"k":4,"s":40,"x":4.9,"y":1.48},{"k":4,"s":40,"x":5.2,"y":1.72},{"k":4,"s":40,"x":5.6,"y":2.15},{"k":4,"s":40,"x":5.95,"y":2.55},{"k":4,"s":40,"x":6.22,"y":2.84},{"k":4,"s":40,"x":6.1,"y":2.92},{"k":4,"s":40,"x":5.6,"y":3.03},{"k":4,"s":40,"x":5.1,"y":3.14},{"k":4,"s":40,"x":5.6,"y":3.25},{"k":4,"s":40,"x":6.1,"y":3.36},{"k":4,"s":40,"x":6.22,"y":3.44},{"k":4,"s":40,"x":5.95,"y":3.73},{"k":4,"s":40,"x":5.6,"y":4.13},{"k":4,"s":40,"x":5.2,"y":4.56},{"k":4,"s":40,"x":4.9,"y":4.8},{"k":4,"s":40,"x":4.2,"y":4.76},{"k":4,"s":40,"x":3.3,"y":4.66},{"k":4,"s":40,"x":2.5,"y":4.54},{"k":4,"s":40,"x":1.9,"y":4.36},{"k":4,"s":40,"x":1.58,"y":4.08},{"k":4,"s":40,"x":1.42,"y":3.76},{"k":4,"s":40,"x":1.34,"y":3.43},{"k":4,"s":40,"x":1.32,"y":3.14},
{"k":3,"s":30,"x":1.42,"y":3.14},{"k":3,"s":30,"x":1.43,"y":2.95},{"k":3,"s":30,"x":1.48,"y":2.7},{"k":3,"s":30,"x":1.65,"y":2.42},{"k":3,"s":30,"x":2,"y":2.22},{"k":3,"s":30,"x":2.5,"y":2.12},{"k":3,"s":30,"x":3.3,"y":2.05},{"k":3,"s":30,"x":4.2,"y":2},{"k":3,"s":30,"x":4.89,"y":2.03},{"k":3,"s":30,"x":5.2,"y":2.2},{"k":3,"s":30,"x":5.45,"y":2.45},{"k":3,"s":30,"x":5.56,"y":2.67},{"k":3,"s":30,"x":5.3,"y":2.75},{"k":3,"s":30,"x":4.89,"y":2.88},{"k":3,"s":30,"x":4.7,"y":3},{"k":3,"s":30,"x":4.4,"y":3.14},{"k":3,"s":30,"x":4.7,"y":3.28},{"k":3,"s":30,"x":4.89,"y":3.4},{"k":3,"s":30,"x":5.3,"y":3.53},{"k":3,"s":30,"x":5.56,"y":3.61},{"k":3,"s":30,"x":5.45,"y":3.83},{"k":3,"s":30,"x":5.2,"y":4.08},{"k":3,"s":30,"x":4.89,"y":4.25},{"k":3,"s":30,"x":4.2,"y":4.28},{"k":3,"s":30,"x":3.3,"y":4.23},{"k":3,"s":30,"x":2.5,"y":4.16},{"k":3,"s":30,"x":2,"y":4.06},{"k":3,"s":30,"x":1.65,"y":3.86},{"k":3,"s":30,"x":1.48,"y":3.58},{"k":3,"s":30,"x":1.43,"y":3.33},{"k":3,"s":30,"x":1.42,"y":3.14},
{"k":2,"s":20,"x":1.52,"y":3.14},{"k":2,"s":20,"x":1.53,"y":2.95},{"k":2,"s":20,"x":1.62,"y":2.7},{"k":2,"s":20,"x":1.9,"y":2.5},{"k":2,"s":20,"x":2.3,"y":2.42},{"k":2,"s":20,"x":2.8,"y":2.44},{"k":2,"s":20,"x":3.3,"y":2.5},{"k":2,"s":20,"x":3.6,"y":2.62},{"k":2,"s":20,"x":3.7,"y":2.8},{"k":2,"s":20,"x":3.65,"y":2.92},{"k":2,"s":20,"x":3.45,"y":3.05},{"k":2,"s":20,"x":3.26,"y":3.14},{"k":2,"s":20,"x":3.45,"y":3.23},{"k":2,"s":20,"x":3.65,"y":3.36},{"k":2,"s":20,"x":3.7,"y":3.48},{"k":2,"s":20,"x":3.6,"y":3.66},{"k":2,"s":20,"x":3.3,"y":3.78},{"k":2,"s":20,"x":2.8,"y":3.84},{"k":2,"s":20,"x":2.3,"y":3.86},{"k":2,"s":20,"x":1.9,"y":3.78},{"k":2,"s":20,"x":1.62,"y":3.58},{"k":2,"s":20,"x":1.53,"y":3.33},{"k":2,"s":20,"x":1.52,"y":3.14},
{"k":1,"s":10,"x":1.65,"y":3.14},{"k":1,"s":10,"x":1.66,"y":3},{"k":1,"s":10,"x":1.7,"y":2.85},{"k":1,"s":10,"x":1.85,"y":2.75},{"k":1,"s":10,"x":2.2,"y":2.73},{"k":1,"s":10,"x":2.5,"y":2.76},{"k":1,"s":10,"x":2.62,"y":2.85},{"k":1,"s":10,"x":2.6,"y":2.98},{"k":1,"s":10,"x":2.5,"y":3.14},{"k":1,"s":10,"x":2.6,"y":3.3},{"k":1,"s":10,"x":2.62,"y":3.43},{"k":1,"s":10,"x":2.5,"y":3.52},{"k":1,"s":10,"x":2.2,"y":3.55},{"k":1,"s":10,"x":1.85,"y":3.53},{"k":1,"s":10,"x":1.7,"y":3.43},{"k":1,"s":10,"x":1.66,"y":3.28},{"k":1,"s":10,"x":1.65,"y":3.14}
]},
"hconcat":[
{"width":461,"height":463,"data":{"name":"c"},
 "transform":[{"window":[{"op":"row_number","as":"i"}]}],
 "resolve":{"axis":{"x":"independent","y":"independent"}},
 "layer":[
  {"transform":[{"filter":"datum.k >= 13"}],
   "mark":{"type":"line","interpolate":"catmull-rom","strokeWidth":0,"clip":true},
   "encoding":{
    "x":{"field":"x","type":"quantitative","scale":{"domain":[-0.2,10.12],"nice":false,"zero":false},
      "axis":{"orient":"bottom","title":"Amplitude Ratio","values":[0,0.5,1,1.5,2,2.5,3,3.5,4,4.5,5,5.5,6,6.5,7,7.5,8,8.5,9,9.5,10],"format":".0f",
        "labelExpr":"abs(datum.value/2-round(datum.value/2))<0.01 ? datum.label : ''",
        "tickSize":{"condition":{"test":"abs(datum.value/2-round(datum.value/2))<0.01","value":-7},"value":-4},
        "labelPadding":14,"labelFontSize":14,"labelFontWeight":"bold","labelColor":"#000","labelFlush":false,
        "tickColor":"#000","domainColor":"#000","grid":true,"gridColor":"#808080","gridOpacity":0.3,
        "titleFontSize":15,"titleFontWeight":"bold","titleColor":"#000","titlePadding":12,"zindex":1}},
    "y":{"field":"y","type":"quantitative","scale":{"domain":[-0.12,6.41],"nice":false,"zero":false},
      "axis":{"orient":"left","title":"δ ϕ","values":[0,0.2,0.4,0.5,0.6,0.8,1,1.2,1.4,1.5,1.6,1.8,2,2.2,2.4,2.5,2.6,2.8,3,3.2,3.4,3.5,3.6,3.8,4,4.2,4.4,4.5,4.6,4.8,5,5.2,5.4,5.5,5.6,5.8,6,6.2,6.4],"format":".0f",
        "labelExpr":"abs(datum.value-round(datum.value))<0.01 ? datum.label : ''",
        "tickSize":{"condition":{"test":"abs(datum.value-round(datum.value))<0.01","value":-7},"value":-4},
        "tickOpacity":{"condition":{"test":"abs(datum.value*5-round(datum.value*5))<0.01","value":1},"value":0},
        "gridOpacity":{"condition":{"test":"abs(datum.value*2-round(datum.value*2))<0.01","value":0.3},"value":0},
        "labelPadding":12,"labelFontSize":14,"labelFontWeight":"bold","labelColor":"#000","labelFlush":false,
        "tickColor":"#000","domainColor":"#000","grid":true,"gridColor":"#808080",
        "titleFontSize":16,"titleFontWeight":"bold","titleColor":"#000","titlePadding":8,"zindex":1}},
    "fill":{"field":"k","type":"ordinal","legend":null,"scale":{"domain":[1,2,3,4,5,6,7,8,9,10,11,12,13,14,15,16,17,18,19,20,21,22,23,24,25,26,27,28,29,30,31],
      "range":["#b2def2","#95cbe5","#7db8d9","#64a4cb","#4a8dbc","#b0d291","#9dc583","#89b775","#76a968","#629a5b","#4b8946","#d08aab","#c77597","#bd6285","#b24f72","#a63b57","#dcab7c","#d39c6d","#ca8d60","#c17e54","#b76f49","#babade","#a2a2d0","#8a8ac1","#7272b1","#5b5ba0","#f6eda2","#f1e68e","#ebdd7a","#e5d467","#dbc952"]}},
    "detail":{"field":"k"},
    "order":{"field":"i","type":"quantitative"}}},
  {"transform":[{"filter":"datum.k <= 12"}],
   "mark":{"type":"line","interpolate":"catmull-rom","strokeWidth":0,"clip":true},
   "encoding":{
    "x":{"field":"x","type":"quantitative","axis":null},
    "y":{"field":"y","type":"quantitative","axis":null},
    "fill":{"field":"k","type":"ordinal","legend":null},
    "detail":{"field":"k"},
    "order":{"field":"i","type":"quantitative"}}},
  {"transform":[{"filter":"isValid(datum.s) && datum.k >= 13"}],
   "mark":{"type":"line","interpolate":"catmull-rom","stroke":"#000","strokeWidth":0.6,"strokeOpacity":0.5,"clip":true},
   "encoding":{
    "x":{"field":"x","type":"quantitative",
      "axis":{"orient":"top","title":null,"labels":false,"grid":false,"values":[0,0.5,1,1.5,2,2.5,3,3.5,4,4.5,5,5.5,6,6.5,7,7.5,8,8.5,9,9.5,10],
        "tickSize":{"condition":{"test":"abs(datum.value/2-round(datum.value/2))<0.01","value":-7},"value":-4},
        "tickColor":"#000","domainColor":"#000","zindex":1}},
    "y":{"field":"y","type":"quantitative",
      "axis":{"orient":"right","title":null,"labels":false,"grid":false,"values":[0,0.2,0.4,0.6,0.8,1,1.2,1.4,1.6,1.8,2,2.2,2.4,2.6,2.8,3,3.2,3.4,3.6,3.8,4,4.2,4.4,4.6,4.8,5,5.2,5.4,5.6,5.8,6,6.2,6.4],
        "tickSize":{"condition":{"test":"abs(datum.value-round(datum.value))<0.01","value":-7},"value":-4},
        "tickColor":"#000","domainColor":"#000","zindex":1}},
    "detail":{"field":"s"},
    "order":{"field":"i","type":"quantitative"}}},
  {"transform":[{"filter":"datum.k <= 12"}],
   "mark":{"type":"line","interpolate":"catmull-rom","stroke":"#000","strokeWidth":0.6,"strokeOpacity":0.5,"clip":true},
   "encoding":{
    "x":{"field":"x","type":"quantitative","axis":null},
    "y":{"field":"y","type":"quantitative","axis":null},
    "detail":{"field":"s"},
    "order":{"field":"i","type":"quantitative"}}}
 ]},
{"width":13,"height":480,"data":{"name":"lg"},
 "mark":{"type":"rect","stroke":"#555","strokeWidth":0.5,"strokeOpacity":0.5},
 "encoding":{
  "y":{"field":"lo","type":"quantitative","scale":{"domain":[21.5,120.7],"nice":false,"zero":false},
    "axis":{"orient":"right","title":null,"values":[27.9,37.2,46.5,55.8,65.1,74.4,83.7,93.0,102.3,111.6],"format":".1f",
      "domain":false,"grid":false,"tickSize":4,"tickColor":"#000","labelPadding":2,"labelFontSize":14,"labelFontWeight":"bold","labelColor":"#000"}},
  "y2":{"field":"hi"},
  "fill":{"field":"k","type":"ordinal","legend":null,"scale":{"domain":[1,2,3,4,5,6,7,8,9,10,11,12,13,14,15,16,17,18,19,20,21,22,23,24,25,26,27,28,29,30,31],
      "range":["#b2def2","#95cbe5","#7db8d9","#64a4cb","#4a8dbc","#b0d291","#9dc583","#89b775","#76a968","#629a5b","#4b8946","#d08aab","#c77597","#bd6285","#b24f72","#a63b57","#dcab7c","#d39c6d","#ca8d60","#c17e54","#b76f49","#babade","#a2a2d0","#8a8ac1","#7272b1","#5b5ba0","#f6eda2","#f1e68e","#ebdd7a","#e5d467","#dbc952"]}}}}
]
}
